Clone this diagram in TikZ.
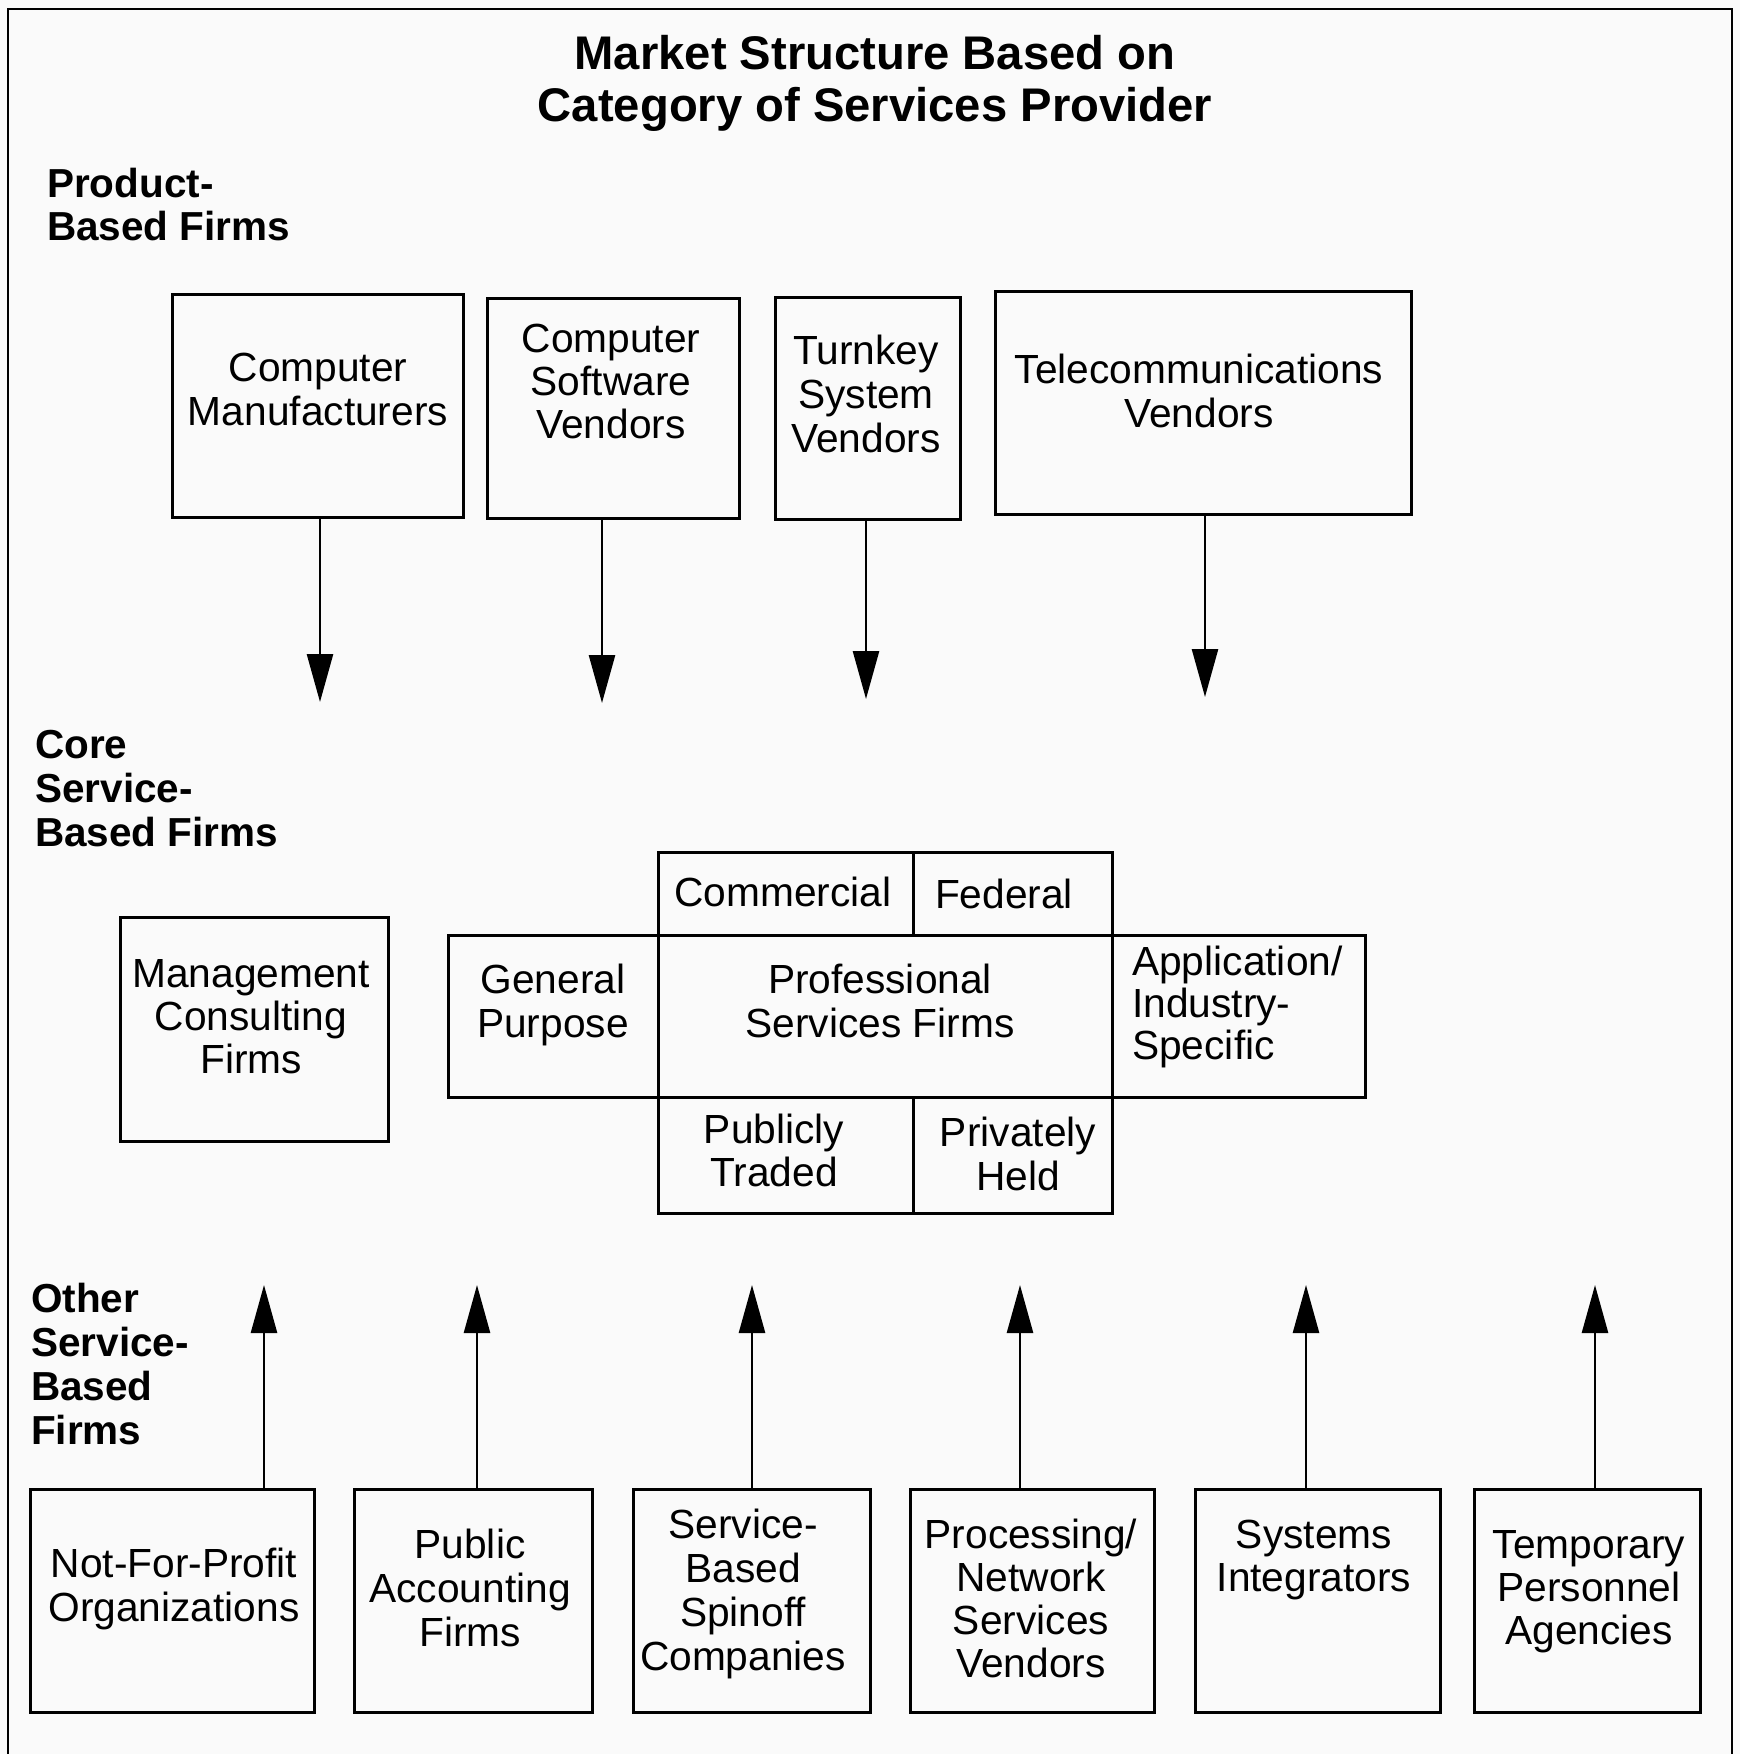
\documentclass[tikz,border=0pt]{standalone}
\usepackage{fontspec}
\setmainfont{Liberation Sans}
\usetikzlibrary{arrows.meta}

% stacked lines whose first baseline is the node's base
\newcommand{\cstack}[1]{\begin{tabular}[t]{@{}c@{}}#1\end{tabular}}
\newcommand{\lstack}[1]{\begin{tabular}[t]{@{}l@{}}#1\end{tabular}}

% box given by its corners: name, x1, y1, x2, y2
\newcommand{\fbx}[5]{%
  \node[frame, minimum width={(#4-#2)*1pt}, minimum height={(#5-#3)*1pt}]
    (#1) at ({(#2+#4)/2},{(#3+#5)/2}) {};}

\tikzset{
  frame/.style={draw, line width=3pt, inner sep=0pt, outer sep=0pt},
  boxtext/.style={inner sep=0pt, anchor=base, font=\fontsize{40.7}{#1}\selectfont},
  boxtext/.default=44pt,
  heading/.style={inner sep=0pt, anchor=base west, font=\bfseries\fontsize{40.5}{#1}\selectfont},
  heading/.default=44pt,
  flow/.style={line width=2.6pt, -{Triangle[length=48pt,width=26pt]}},
}

\begin{document}
\begin{tikzpicture}[x=1pt, y=-1pt]
\useasboundingbox (0,0) rectangle (1740,1754);
\fill[black!2] (0,0) rectangle (1740,1754);

% outer frame
\draw[line width=2pt] (8,1754) -- (8,9) -- (1732,9) -- (1732,1754);

% title
\node[inner sep=0pt, anchor=base, font=\bfseries\fontsize{47.2}{52}\selectfont]
  (title) at (875,69) {\cstack{Market Structure Based on\\Category of Services Provider}};

% group headings
\node[heading=43pt] (hprod) at (47,197) {\lstack{Product-\\Based Firms}};
\node[heading] (hcore) at (35,758) {\lstack{Core\\Service-\\Based Firms}};
\node[heading] (hother) at (31,1312) {\lstack{Other\\Service-\\Based\\Firms}};

% product-based firms
\fbx{m1}{172}{294}{463}{517}
\fbx{m2}{487}{298}{739}{518}
\fbx{m3}{775}{297}{960}{519}
\fbx{m4}{995}{291}{1411}{514}
\node[boxtext] (m1t) at (318,381) {\cstack{Computer\\Manufacturers}};
\node[boxtext=43pt] (m2t) at (611,352) {\cstack{Computer\\Software\\Vendors}};
\node[boxtext] (m3t) at (866,364) {\cstack{Turnkey\\System\\Vendors}};
\node[boxtext] (m4t) at (1199,383) {\cstack{Telecommunications\\Vendors}};

\coordinate (d1) at (320,702);
\coordinate (d2) at (602,703);
\coordinate (d3) at (866,699);
\coordinate (d4) at (1205,697);
\draw[flow] (d1 |- m1.south) -- (d1);
\draw[flow] (d2 |- m2.south) -- (d2);
\draw[flow] (d3 |- m3.south) -- (d3);
\draw[flow] (d4 |- m4.south) -- (d4);

% core service-based firms
\fbx{mc}{120}{917}{388}{1141}
\node[boxtext=43pt] (mct) at (251,987) {\cstack{Management\\Consulting\\Firms}};

\fbx{ccom}{658}{852}{913}{935}
\fbx{cfed}{913}{852}{1112}{935}
\fbx{cgen}{448}{935}{658}{1097}
\fbx{cpro}{658}{935}{1112}{1097}
\fbx{capp}{1112}{935}{1365}{1097}
\fbx{cpub}{658}{1097}{913}{1213}
\fbx{cpri}{913}{1097}{1112}{1213}
\node[boxtext] (ccomt) at (783,906) {Commercial};
\node[boxtext] (cfedt) at (1004,908) {Federal};
\node[boxtext] (cgent) at (553,993) {\cstack{General\\Purpose}};
\node[boxtext] (cprot) at (880,993) {\cstack{Professional\\Services Firms}};
\node[boxtext=42pt, anchor=base west] (cappt) at (1132,975) {\lstack{Application/\\Industry-\\Specific}};
\node[boxtext=43pt] (cpubt) at (774,1143) {\cstack{Publicly\\Traded}};
\node[boxtext] (cprit) at (1018,1146) {\cstack{Privately\\Held}};

% other service-based firms
\fbx{b1}{30}{1489}{314}{1712}
\fbx{b2}{354}{1489}{592}{1712}
\fbx{b3}{633}{1489}{870}{1712}
\fbx{b4}{910}{1489}{1154}{1712}
\fbx{b5}{1195}{1489}{1440}{1712}
\fbx{b6}{1474}{1489}{1700}{1712}
\node[boxtext] (b1t) at (174,1577) {\cstack{Not-For-Profit\\Organizations}};
\node[boxtext] (b2t) at (470,1558) {\cstack{Public\\Accounting\\Firms}};
\node[boxtext] (b3t) at (743,1538) {\cstack{Service-\\Based\\Spinoff\\Companies}};
\node[boxtext=43pt] (b4t) at (1031,1548) {\cstack{Processing/\\Network\\Services\\Vendors}};
\node[boxtext=43pt] (b5t) at (1314,1548) {\cstack{Systems\\Integrators}};
\node[boxtext=43pt] (b6t) at (1589,1558) {\cstack{Temporary\\Personnel\\Agencies}};

\coordinate (u1) at (264,1285);
\coordinate (u2) at (477,1285);
\coordinate (u3) at (752,1285);
\coordinate (u4) at (1020,1285);
\coordinate (u5) at (1306,1285);
\coordinate (u6) at (1595,1285);
\draw[flow] (u1 |- b1.north) -- (u1);
\draw[flow] (u2 |- b2.north) -- (u2);
\draw[flow] (u3 |- b3.north) -- (u3);
\draw[flow] (u4 |- b4.north) -- (u4);
\draw[flow] (u5 |- b5.north) -- (u5);
\draw[flow] (u6 |- b6.north) -- (u6);
\end{tikzpicture}
\end{document}
